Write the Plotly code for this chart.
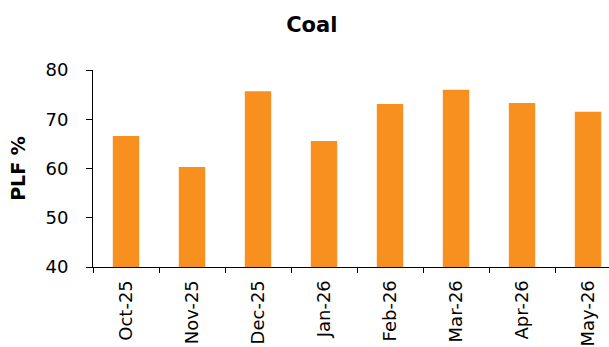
import plotly.graph_objects as go

months = ["Oct-25", "Nov-25", "Dec-25", "Jan-26", "Feb-26", "Mar-26", "Apr-26", "May-26"]
plf = [66.6, 60.3, 75.7, 65.6, 73.1, 76.0, 73.3, 71.5]

fig = go.Figure(
    go.Bar(
        x=months,
        y=plf,
        marker=dict(color="#F7901E", line=dict(width=0)),
        width=0.4,
    )
)

fig.update_layout(
    width=609,
    height=347,
    margin=dict(l=93, r=0, t=70, b=80),
    paper_bgcolor="white",
    plot_bgcolor="white",
    font=dict(family="DejaVu Sans", color="black"),
    title=dict(
        text="<b>Coal</b>",
        x=0.512,
        xanchor="center",
        y=0.93,
        yanchor="middle",
        font=dict(size=21, family="DejaVu Sans", color="black"),
    ),
    showlegend=False,
)

fig.update_xaxes(
    type="category",
    range=[-0.5, 7.318],
    tickson="boundaries",
    ticks="outside",
    ticklen=5,
    tickcolor="black",
    showline=True,
    linecolor="black",
    linewidth=1,
    showgrid=False,
    tickangle=-90,
    ticklabelstandoff=5,
    tickfont=dict(size=18, family="DejaVu Sans", color="black"),
)

fig.update_yaxes(
    range=[40, 80],
    dtick=10,
    ticks="outside",
    ticklen=6,
    tickcolor="black",
    showline=True,
    linecolor="black",
    linewidth=1,
    showgrid=False,
    zeroline=False,
    ticklabelstandoff=14,
    tickfont=dict(size=18, family="DejaVu Sans", color="black"),
    title=dict(text="<b>PLF %</b>", font=dict(size=19, family="DejaVu Sans", color="black"), standoff=14),
)

fig.write_html("out.html")
